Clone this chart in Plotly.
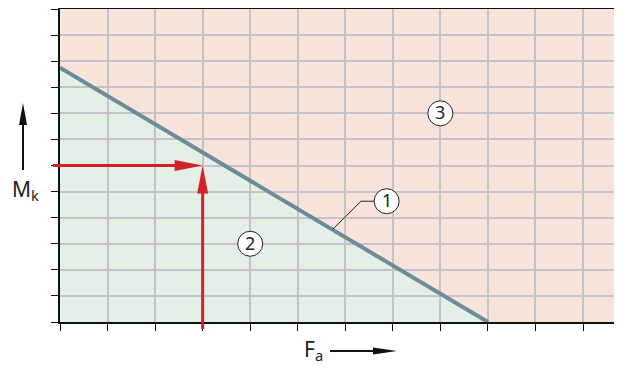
import plotly.graph_objects as go

# chart extents in grid units (one grid cell = 1)
x_max = 11.82
y_max = 12

# limit line, M_k falls linearly with F_a
limit_fa = [0, 9]
limit_mk = [9.75, 0]

# worked example
example_fa = 3
example_mk = 6

# callout numbers
label_text = ["1", "2", "3"]
label_fa = [6.87, 4, 8]
label_mk = [4.63, 3, 8]

# leader from callout 1 down to the limit line
leader_fa = [6.87, 6.33, 5.73]
leader_mk = [4.63, 4.63, 3.54]

# the page puts the plot 8px in from the top left corner of the window
OFF = 8
W, H = 622 - OFF, 367 - OFF
L, R, T, B = 60 - OFF, 0, 1, 45
PW, PH = W - L - R, H - T - B

RED = "#d3212b"
FONT = "Noto Sans"


def paper(xp, yp):
    """pixel position in the reference picture -> paper coords"""
    return (xp - OFF - L) / PW, (H - B - (yp - OFF)) / PH


def arrow(x0, y0, x1, y1, color, width, hl, hw):
    """shaft + slender head, coords in paper, head sizes in px"""
    shapes = []
    if y0 == y1:  # horizontal, pointing right
        shapes.append(dict(type="line", xref="paper", yref="paper",
                           x0=x0, y0=y0, x1=x1 - (hl - 2) / PW, y1=y1,
                           line=dict(color=color, width=width)))
        path = f"M0,0 L{-hl},{hw} L{-hl},{-hw} Z"
    else:  # vertical, pointing up
        shapes.append(dict(type="line", xref="paper", yref="paper",
                           x0=x0, y0=y0, x1=x1, y1=y1 - (hl - 2) / PH,
                           line=dict(color=color, width=width)))
        path = f"M0,0 L{-hw},{-hl} L{hw},{-hl} Z"
    shapes.append(dict(type="path", xref="paper", yref="paper",
                       xsizemode="pixel", ysizemode="pixel",
                       xanchor=x1, yanchor=y1, path=path,
                       fillcolor=color, line=dict(width=0)))
    return shapes


fig = go.Figure()

fig.add_trace(go.Scatter(x=limit_fa, y=limit_mk, mode="lines",
                         line=dict(color="#6a8d9a", width=4),
                         hoverinfo="skip"))

fig.add_trace(go.Scatter(x=leader_fa, y=leader_mk, mode="lines",
                         line=dict(color="#222", width=1), hoverinfo="skip"))

fig.add_trace(go.Scatter(x=label_fa, y=label_mk, mode="markers",
                         marker=dict(size=25, color="white",
                                     line=dict(color="#222", width=1)),
                         cliponaxis=False, hoverinfo="skip"))

shapes = []
# green admissible area under the limit line
tri = f"M{limit_fa[0]},0 L{limit_fa[0]},{limit_mk[0]} L{limit_fa[1]},{limit_mk[1]} Z"
shapes.append(dict(type="path", xref="x", yref="y", path=tri, layer="below",
                   fillcolor="#e4efe5", line=dict(width=0)))

# red read-off arrows
tip_x, tip_y = example_fa / x_max, example_mk / y_max
shapes += arrow(paper(53, 0)[0], tip_y, tip_x, tip_y, RED, 3, 28, 5.5)
shapes += arrow(tip_x, paper(0, 329)[1], tip_x, tip_y, RED, 3, 28, 5.5)

# black axis arrows
ax, ay0 = paper(23, 170)
_, ay1 = paper(23, 103)
shapes += arrow(ax, ay0, ax, ay1, "#111", 2, 22, 4)
bx0, by = paper(330, 351)
bx1, _ = paper(397, 351)
shapes += arrow(bx0, by, bx1, by, "#111", 2, 24, 3.5)

annotations = []
for t, fa, mk in zip(label_text, label_fa, label_mk):
    annotations.append(dict(x=fa, y=mk, xref="x", yref="y", text=t,
                            showarrow=False, yshift=1,
                            xanchor="center", yanchor="middle",
                            font=dict(family=FONT, size=18, color="#222")))

mx, my = paper(25, 190)
fx, fy = paper(313, 350)
annotations += [
    dict(x=mx, y=my, xref="paper", yref="paper", showarrow=False,
         xanchor="center", yanchor="middle",
         text="M<sub>k</sub>", font=dict(family=FONT, size=21, color="#222")),
    dict(x=fx, y=fy, xref="paper", yref="paper", showarrow=False,
         xanchor="center", yanchor="middle",
         text="F<sub>a</sub>", font=dict(family=FONT, size=21, color="#222")),
]

fig.update_layout(
    width=W, height=H,
    margin=dict(l=L, r=R, t=T, b=B),
    paper_bgcolor="white",
    plot_bgcolor="#f9e4dc",
    showlegend=False,
    shapes=shapes,
    annotations=annotations,
)
fig.update_xaxes(range=[0, x_max], dtick=1, tick0=0, showticklabels=False,
                 showgrid=True, gridcolor="#c4c4c8", gridwidth=2,
                 ticks="outside", ticklen=7, tickcolor="#111", tickwidth=1,
                 showline=True, linecolor="#111", linewidth=2, mirror=True,
                 zeroline=False, fixedrange=True)
fig.update_yaxes(range=[0, y_max], dtick=1, tick0=0, showticklabels=False,
                 showgrid=True, gridcolor="#c4c4c8", gridwidth=2,
                 ticks="outside", ticklen=7, tickcolor="#111", tickwidth=1,
                 showline=True, linecolor="#111", linewidth=2,
                 zeroline=False, fixedrange=True)

fig.write_html("out.html")
